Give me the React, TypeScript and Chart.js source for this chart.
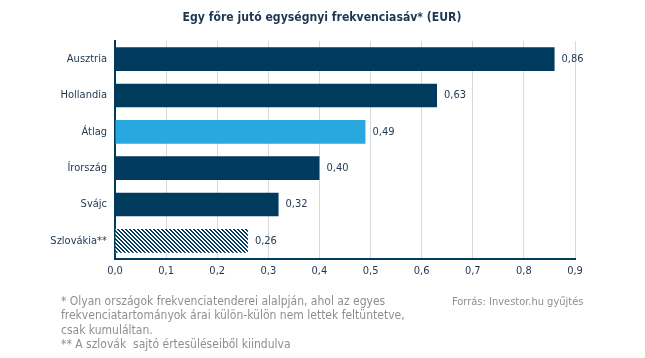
import React, { useEffect, useRef } from "react";
import { Chart, registerables } from "chart.js";

Chart.register(...registerables);

const categories = ["Ausztria", "Hollandia", "Átlag", "Írország", "Svájc", "Szlovákia**"];
const values = [0.86, 0.63, 0.49, 0.40, 0.32, 0.26];
const barKinds = ["dark", "dark", "light", "dark", "dark", "hatch"];
const titleText = "Egy főre jutó egységnyi frekvenciasáv* (EUR)";
const footnotes = [
  "* Olyan országok frekvenciatenderei alalpján, ahol az egyes",
  "frekvenciatartományok árai külön-külön nem lettek feltüntetve,",
  "csak kumuláltan.",
  "** A szlovák  sajtó értesüléseiből kiindulva",
];
const sourceText = "Forrás: Investor.hu gyűjtés";

const NAVY = "#003a5d";
const LIGHT = "#29a8e0";
const TEXT = "#1d3652";
const FONT = "'DejaVu Sans Condensed', 'Liberation Sans Narrow', 'Liberation Sans', sans-serif";

function makeHatch(): CanvasPattern | string {
  const c = document.createElement("canvas");
  c.width = 4;
  c.height = 4;
  const g = c.getContext("2d");
  if (!g) return NAVY;
  g.fillStyle = "#ffffff";
  g.fillRect(0, 0, 4, 4);
  g.fillStyle = NAVY;
  for (let r = 0; r < 4; r++) {
    g.fillRect(r, r, 1, 1);
    g.fillRect((r + 1) % 4, r, 1, 1);
  }
  const p = g.createPattern(c, "repeat");
  return p || NAVY;
}

function fitText(ctx: CanvasRenderingContext2D, text: string, x: number, y: number, width: number, align: "left" | "center") {
  const w = ctx.measureText(text).width;
  const s = width / w;
  ctx.save();
  ctx.translate(x, y);
  ctx.scale(s, 1);
  ctx.textAlign = align;
  ctx.fillText(text, 0, 0);
  ctx.restore();
}

export default function App() {
  const ref = useRef<HTMLCanvasElement>(null);
  useEffect(() => {
    if (!ref.current) return;
    const hatch = makeHatch();
    const colors = barKinds.map((k) => (k === "dark" ? NAVY : k === "light" ? LIGHT : hatch));

    const textPlugin = {
      id: "texts",
      afterDraw(chart: any) {
        const ctx = chart.ctx;
        ctx.save();
        ctx.fillStyle = TEXT;
        ctx.font = `bold 13px ${FONT}`;
        ctx.textBaseline = "middle";
        fitText(ctx, titleText, 322, 18, 279, "center");

        const meta = chart.getDatasetMeta(0);
        ctx.font = `11px ${FONT}`;
        ctx.textAlign = "left";
        meta.data.forEach((bar: any, i: number) => {
          ctx.fillText(values[i].toFixed(2).replace(".", ","), bar.x + 7, bar.y);
        });

        ctx.fillStyle = "#8f8f8f";
        ctx.font = `12px ${FONT}`;
        ctx.textAlign = "left";
        footnotes.forEach((t, i) => ctx.fillText(t, 61, 302 + i * 14.2));
        ctx.font = `11px ${FONT}`;
        ctx.fillText(sourceText, 452, 302);
        ctx.restore();
      },
    };

    const chart = new Chart(ref.current, {
      type: "bar",
      data: {
        labels: categories,
        datasets: [
          {
            data: values,
            backgroundColor: colors as any,
            borderWidth: 0,
            categoryPercentage: 0.65,
            barPercentage: 1,
          },
        ],
      },
      options: {
        indexAxis: "y",
        responsive: false,
        animation: false,
        layout: { padding: { top: 41, right: 70, bottom: 0, left: 0 } },
        plugins: { legend: { display: false }, tooltip: { enabled: false }, title: { display: false } },
        scales: {
          x: {
            min: 0,
            max: 0.9,
            ticks: {
              stepSize: 0.1,
              color: TEXT,
              padding: 6,
              font: { family: FONT, size: 11 },
              callback: (v: any) => Number(v).toFixed(1).replace(".", ","),
            },
            grid: { color: "#d9d9d9", drawTicks: false, lineWidth: 1 },
            border: { display: true, color: NAVY, width: 2 },
            afterFit: (s: any) => {
              s.height = 99;
            },
          },
          y: {
            ticks: { color: TEXT, padding: 8, font: { family: FONT, size: 11 } },
            grid: { color: "rgba(0,0,0,0)", drawTicks: false },
            border: { display: true, color: NAVY, width: 2 },
            afterFit: (s: any) => {
              s.width = 115;
            },
          },
        },
      },
      plugins: [textPlugin],
    });
    return () => chart.destroy();
  }, []);

  return (
    <div style={{ position: "fixed", left: 0, top: 0, width: 645, height: 358, background: "#fff" }}>
      <canvas ref={ref} width={645} height={358} style={{ width: 645, height: 358, display: "block" }} />
    </div>
  );
}
